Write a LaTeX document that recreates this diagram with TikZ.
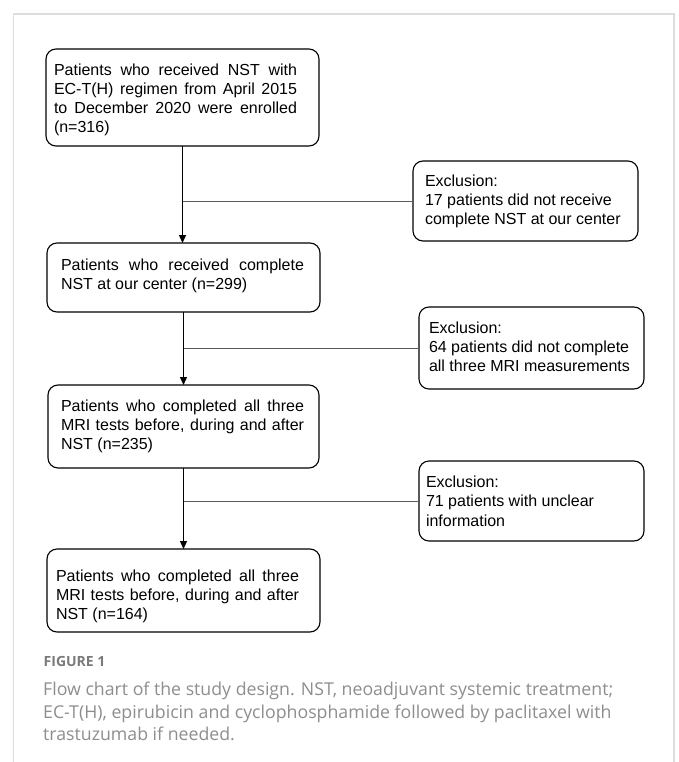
\documentclass[tikz,border=0pt]{standalone}
\usepackage{fontspec}
\setmainfont{Liberation Sans}
\newfontfamily\capfont{Open Sans}
\usetikzlibrary{arrows.meta}
\definecolor{framegray}{HTML}{DDDDDD}
\definecolor{capgray}{HTML}{8E8E8E}
\definecolor{figgray}{HTML}{7A7A7A}
\definecolor{branchgray}{HTML}{5A5A5A}
\newlength\capwd
\begin{document}
\settowidth\capwd{\capfont\fontsize{10}{12}\selectfont Flow chart of the study design. NST, neoadjuvant systemic treatment;}%
\pgfmathsetmacro\capsz{10*570/\capwd}%
\begin{tikzpicture}[x=1pt,y=-1pt,
  box/.style={draw=black, line width=1.1pt, rounded corners=10pt, inner sep=0pt, outer sep=0pt, anchor=north west},
  txt/.style={anchor=north west, inner sep=0pt, outer sep=0pt, align=left, font=\fontsize{16}{19.3}\selectfont},
  arr/.style={draw=black, line width=1.3pt, -{Triangle[length=8pt,width=7pt]}},
  branch/.style={draw=branchgray, line width=0.9pt},
  frame/.style={draw=framegray, line width=1.5pt}]
\useasboundingbox (0,0) rectangle (678,762);
\fill[white] (0,0) rectangle (678,762);
\draw[frame] (13.5,762) -- (13.5,14) -- (674,14) -- (674,762);

% main boxes
\node[box, minimum width=273pt, minimum height=97pt] (b1) at (46,49) {};
\node[box, minimum width=273pt, minimum height=69pt] (b2) at (47,243) {};
\node[box, minimum width=271pt, minimum height=83pt] (b3) at (48,385) {};
\node[box, minimum width=273pt, minimum height=83pt] (b4) at (47,549) {};
% exclusion boxes
\node[box, minimum width=225pt, minimum height=80pt] (e1) at (413,161) {};
\node[box, minimum width=225pt, minimum height=82pt] (e2) at (419,307) {};
\node[box, minimum width=225pt, minimum height=80pt] (e3) at (419,461) {};

% texts
\node[txt] (t1) at (54,61.5) {\strut\makebox[243pt][s]{Patients who received NST with}\\
\makebox[243pt][s]{EC-T(H) regimen from April 2015}\\
\makebox[243pt][s]{to December 2020 were enrolled}\\
(n=316)};
\node[txt] (t2) at (61,256.5) {\strut\makebox[243pt][s]{Patients who received complete}\\
NST at our center (n=299)};
\node[txt] (t3) at (61,397.5) {\strut\makebox[243pt][s]{Patients who completed all three}\\
\makebox[243pt][s]{MRI tests before, during and after}\\
NST (n=235)};
\node[txt] (t4) at (56,567.5) {\strut\makebox[243pt][s]{Patients who completed all three}\\
\makebox[243pt][s]{MRI tests before, during and after}\\
NST (n=164)};
\node[txt] (x1) at (425,172.5) {\strut Exclusion:\\17 patients did not receive\\complete NST at our center};
\node[txt] (x2) at (429,319.5) {\strut Exclusion:\\64 patients did not complete\\all three MRI measurements};
\node[txt] (x3) at (426,474) {\strut Exclusion:\\71 patients with unclear\\information};

% connectors
\draw[branch] (b1.south |- e1.west) -- (e1.west);
\draw[branch] (b2.south |- e2.west) -- (e2.west);
\draw[branch] (b3.south |- e3.west) -- (e3.west);
\draw[arr] (b1.south) -- (b1.south |- b2.north);
\draw[arr] (b2.south) -- (b2.south |- b3.north);
\draw[arr] (b3.south) -- (b3.south |- b4.north);

% caption
\node[anchor=base west, inner sep=0pt, text=figgray, font=\capfont\bfseries\fontsize{14}{16}\selectfont] (fig) at (43.5,666.7) {FIGURE 1};
\node[anchor=north west, inner sep=0pt, align=left, text=capgray, font=\capfont\fontsize{\capsz}{22.3}\selectfont] (cap) at (43,680.1) {\strut Flow chart of the study design. NST, neoadjuvant systemic treatment;\\
EC-T(H), epirubicin and cyclophosphamide followed by paclitaxel with\\
trastuzumab if needed.};
\end{tikzpicture}
\end{document}
